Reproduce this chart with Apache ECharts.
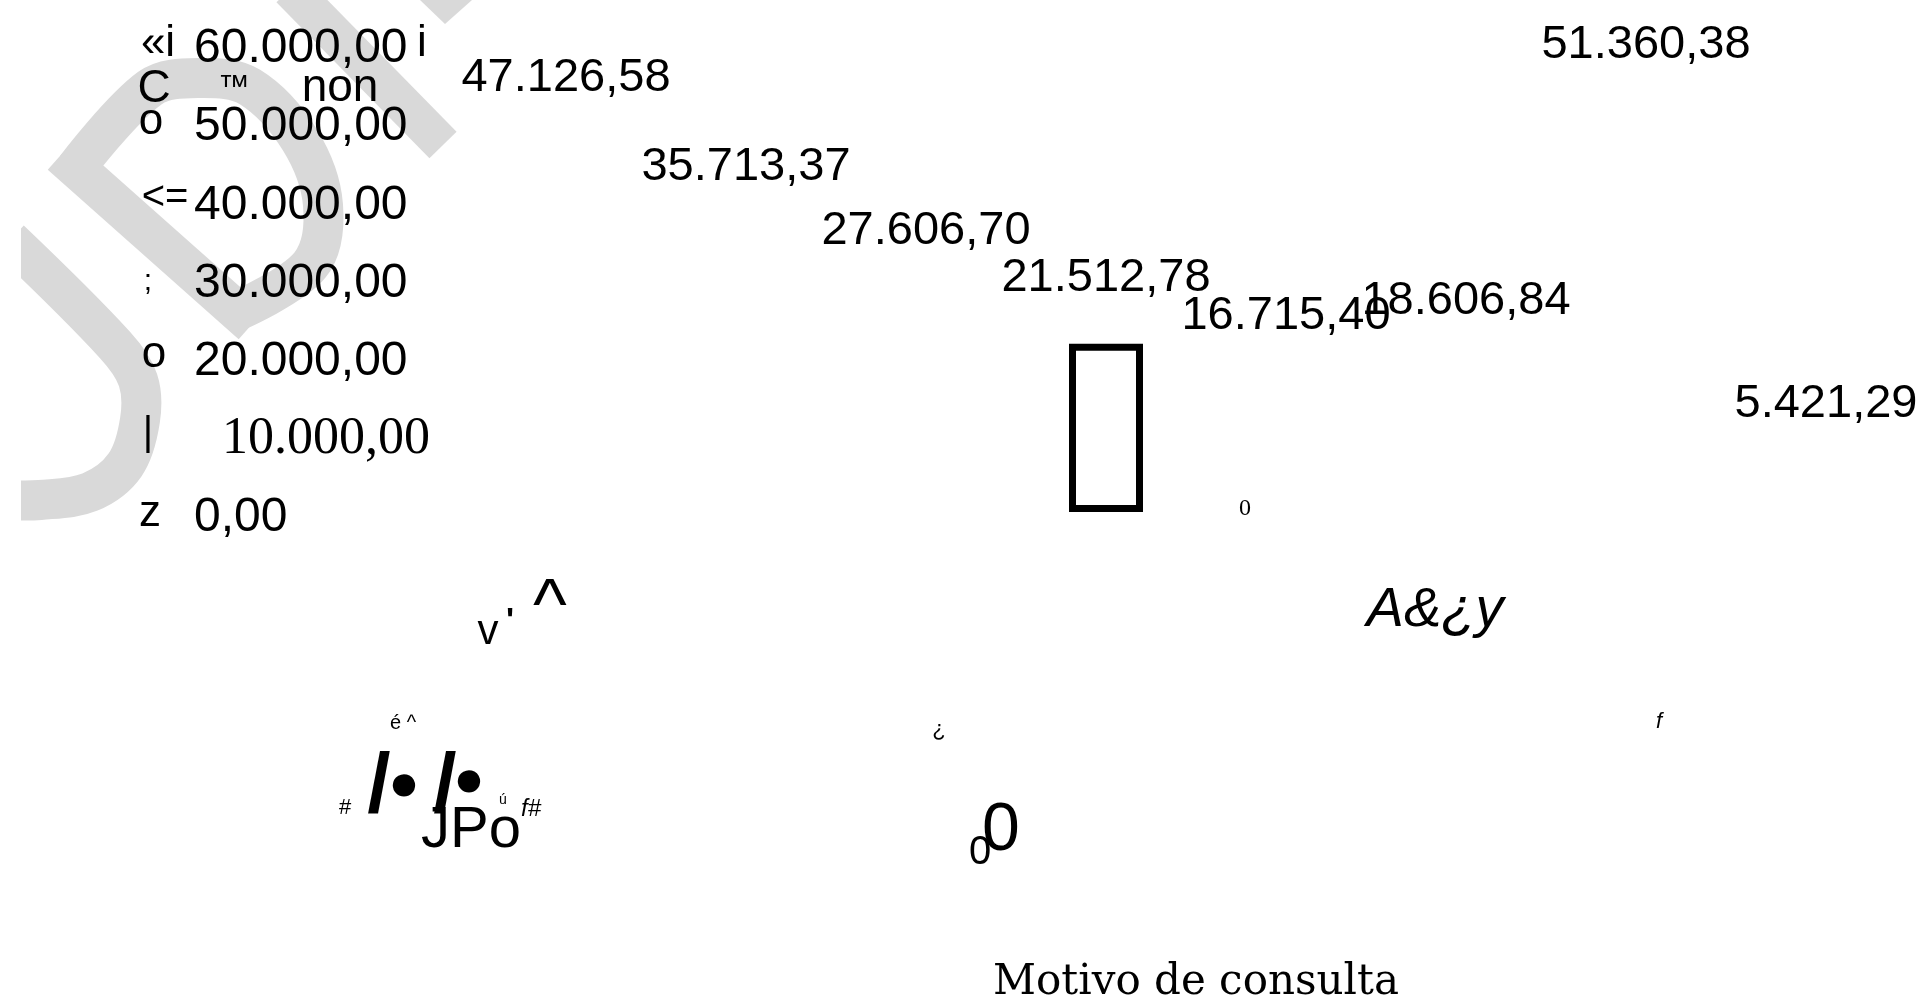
<!DOCTYPE html>
<html>
<head>
<meta charset="utf-8">
<title>Motivo de consulta</title>
<script src="https://cdn.jsdelivr.net/npm/echarts@6/dist/echarts.min.js"></script>
<style>
html, body { margin: 0; padding: 0; background: #fff; }
#chart { width: 1917px; height: 1003px; }
</style>
</head>
<body>
<div id="chart"></div>
<script>
// categorias: los nombres no se leen en el original (solo quedan restos garbled abajo)
var categories = ["Motivo 1", "Motivo 2", "Motivo 3", "Motivo 4", "Motivo 5", "Motivo 6", "Motivo 7", "Motivo 8"];
// importe por motivo de consulta
var costs = [47126.58, 35713.37, 27606.70, 21512.78, 16715.40, 18606.84, 51360.38, 5421.29];
// eje y
var yMin = 0;
var yMax = 60000;
var yStep = 10000;
// unica barra con contorno visible en el original
var outlinedBar = 3;

/* 60000 -> "60.000,00" */
function fmtNum(v) {
  var parts = Number(v).toFixed(2).split(".");
  var ent = parts[0].replace(/\B(?=(\d{3})+(?!\d))/g, ".");
  return ent + "," + parts[1];
}

var sans = "'Liberation Sans', Arial, sans-serif";
var narrow = "'Liberation Sans Narrow', 'Liberation Sans', sans-serif";
var serif = "'Liberation Serif', 'Times New Roman', serif";

function txt(t, x, y, size, extra) {
  var st = {
    text: t,
    fontSize: size,
    fontFamily: sans,
    fill: "#000",
    align: "center",
    verticalAlign: "middle"
  };
  for (var k in extra || {}) st[k] = extra[k];
  return { type: "text", x: x, y: y, z: 20, style: st };
}

// marca de agua gris (logo escaneado)
var grey = "#d9d9d9";
var watermark = [
  {
    type: "polyline", z: 1,
    shape: { points: [[290, -11], [443, 145]] },
    style: { stroke: grey, lineWidth: 38, fill: null, lineCap: "butt" }
  },
  {
    type: "polygon", z: 1,
    shape: { points: [[420, 0], [472, 0], [445, 24]] },
    style: { fill: grey }
  },
  {
    type: "polyline", z: 1,
    shape: {
      points: [[76, 168], [150, 88], [200, 78], [250, 87], [300, 140], [323, 205], [310, 265], [237, 311]],
      smooth: 0.35
    },
    style: { stroke: grey, lineWidth: 40, fill: null, lineCap: "butt", lineJoin: "round" }
  },
  {
    type: "polyline", z: 1,
    shape: { points: [[237, 311], [76, 168]] },
    style: { stroke: grey, lineWidth: 40, fill: null, lineCap: "square" }
  },
  {
    type: "polyline", z: 1,
    shape: {
      points: [[10, 240], [115, 345], [138, 380], [140, 420], [125, 465], [90, 492], [40, 500], [5, 500]],
      smooth: 0.35
    },
    style: { stroke: grey, lineWidth: 40, fill: null, lineCap: "butt", lineJoin: "round" }
  },
  {
    type: "rect", z: 2,
    shape: { x: 0, y: 0, width: 21, height: 1003 },
    style: { fill: "#fff" }
  }
];

// restos del titulo del eje y (rotado y mal reconocido en el escaneo)
var yTitleBits = [
  txt("«i", 158, 44, 44),
  txt("i", 422, 44, 44),
  txt("C", 154, 89, 46),
  txt("™", 234, 88, 32),
  txt("non", 340, 88, 46),
  txt("o", 151, 122, 44),
  txt("<=", 165, 198, 40),
  txt(";", 148, 282, 30),
  txt("o", 154, 355, 44),
  txt("|", 148, 434, 40),
  txt("z", 150, 514, 44)
];

// restos de las etiquetas de categoria
var xLabelBits = [
  txt("v", 488, 632, 42),
  txt("'", 510, 622, 34, { fontWeight: "bold" }),
  txt("^", 550, 609, 72),
  txt("A&¿y", 1435, 610, 56, { fontStyle: "italic" }),
  txt("é ^", 403, 723, 20),
  txt("¿", 939, 730, 22),
  txt("f", 1659, 722, 22, { fontStyle: "italic" }),
  txt("#", 345, 808, 22),
  txt("/", 379, 789, 84, { fontWeight: "bold" }),
  txt("●", 404, 786, 52),
  txt("/", 445, 789, 84, { fontWeight: "bold" }),
  txt("●", 469, 782, 52),
  txt("JPo", 471, 831, 58, { fontFamily: narrow }),
  txt("ú", 503, 800, 14),
  txt("f#", 531, 809, 24, { fontStyle: "italic" }),
  txt("0", 1245, 509, 24, { fontFamily: serif }),
  txt("0", 1001, 831, 68),
  txt("0", 980, 853, 40)
];

var chart = echarts.init(document.getElementById("chart"));
chart.setOption({
  backgroundColor: "#fff",
  animation: false,
  grid: { left: 476, top: 43, width: 1440, height: 469, outerBoundsMode: "none", containLabel: false },
  xAxis: {
    type: "category",
    data: categories,
    axisLine: { show: false },
    axisTick: { show: false },
    axisLabel: { show: false },
    splitLine: { show: false },
    name: "Motivo de consulta",
    nameLocation: "middle",
    nameGap: 450,
    nameTextStyle: { fontFamily: "'DejaVu Serif', serif", fontSize: 42, color: "#000" }
  },
  yAxis: {
    type: "value",
    min: yMin,
    max: yMax,
    interval: yStep,
    z: 10,
    axisLine: { show: false },
    axisTick: { show: false },
    splitLine: { show: false },
    axisLabel: {
      align: "left",
      margin: 282,
      padding: [12, 0, 0, 0],
      color: "#000",
      fontFamily: sans,
      fontSize: 48,
      formatter: function (v) {
        // 10.000,00 sale en letra con serifa en el original
        if (v === 10000) return "{s|" + fmtNum(v) + "}";
        return fmtNum(v);
      },
      rich: {
        s: { fontFamily: serif, fontSize: 52, color: "#000", padding: [0, 0, 0, 28] }
      }
    }
  },
  series: [{
    type: "bar",
    z: 10,
    barWidth: 74,
    data: costs.map(function (v, i) {
      if (i === outlinedBar) {
        return { value: v, itemStyle: { color: "#fff", borderColor: "#000", borderWidth: 7 } };
      }
      return { value: v, itemStyle: { color: "rgba(0,0,0,0)" } };
    }),
    label: {
      show: true,
      position: "top",
      distance: 42,
      color: "#000",
      fontFamily: sans,
      fontSize: 47,
      formatter: function (p) { return fmtNum(p.value); }
    },
    emphasis: { disabled: true }
  }],
  graphic: watermark.concat(yTitleBits, xLabelBits)
});
</script>
</body>
</html>
